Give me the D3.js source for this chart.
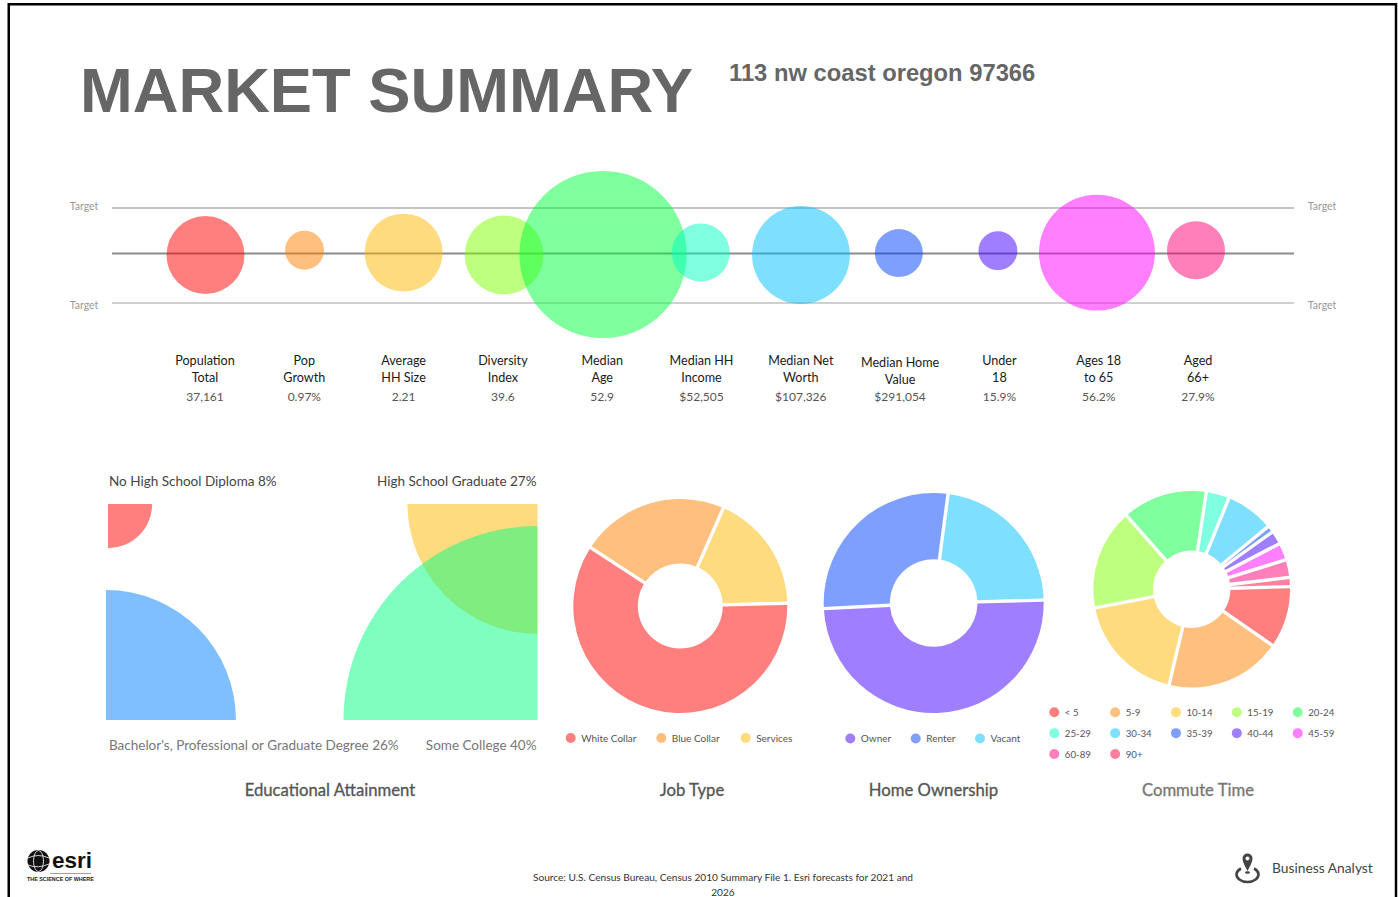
<!DOCTYPE html>
<html>
<head>
<meta charset="utf-8">
<script src="https://d3js.org/d3.v7.min.js"></script>
<title>Market Summary</title>
<style>
    html, body { margin: 0; padding: 0; background: #fff; overflow: hidden; }
    svg { display: block; }
    text { font-family: Lato, "Open Sans", sans-serif; }
    .head { font-family: "Liberation Sans", Arial, sans-serif; font-weight: bold; fill: #666; }
</style>
</head>
<body>
<svg id="chart" width="1398" height="897"></svg>
<script>
// top row
const metricNames = [["Population", "Total"], ["Pop", "Growth"], ["Average", "HH Size"], ["Diversity", "Index"],
    ["Median", "Age"], ["Median HH", "Income"], ["Median Net", "Worth"], ["Median Home", "Value"],
    ["Under", "18"], ["Ages 18", "to 65"], ["Aged", "66+"]];
const metricValues = ["37,161", "0.97%", "2.21", "39.6", "52.9", "$52,505", "$107,326", "$291,054", "15.9%", "56.2%", "27.9%"];
// bubble size against the target band (1 = as tall as the band), and its height inside the band
const bubbleSize = [0.82, 0.41, 0.82, 0.83, 1.76, 0.61, 1.03, 0.505, 0.41, 1.22, 0.61];
const bubbleLevel = [-0.03, 0.07, 0.02, -0.03, -0.02, 0.02, -0.03, 0.01, 0.06, 0.02, 0.07];
const bubbleSlot = [0, 1, 2, 3.014, 4.013, 5, 6.012, 7, 8, 9, 10];
const bubbleColors = ["#ff0000", "#ff7f00", "#ffb700", "#80ff00", "#00ff3c", "#00ffc0", "#00bfff", "#0040ff", "#4000ff", "#ff00ff", "#ff0078"];

// education
const eduLabels = ["No High School Diploma 8%", "High School Graduate 27%", "Bachelor's, Professional or Graduate Degree 26%", "Some College 40%"];
const eduValues = [9.1, 26.8, 26.8, 40];
const eduColors = ["#ff0000", "#ffb700", "#0080ff", "#00ff80"];

// donuts
const jobNames = ["White Collar", "Blue Collar", "Services"];
const jobValues = [59.6, 22.4, 18];
const homeNames = ["Owner", "Renter", "Vacant"];
const homeValues = [49.6, 27.9, 22.5];
const commuteNames = ["< 5", "5-9", "10-14", "15-19", "20-24", "25-29", "30-34", "35-39", "40-44", "45-59", "60-89", "90+"];
const commuteValues = [10.1, 19, 18.25, 16.5, 13.9, 3.8, 7.9, 1.1, 2.2, 2.8, 2.9, 1.5];
const paletteA = ["#ff0000", "#ff7f00", "#ffb700"];
const paletteB = ["#4000ff", "#0040ff", "#00bfff"];
const paletteC = ["#ff0000", "#ff7f00", "#ffb700", "#80ff00", "#00ff3c", "#00ffc0", "#00bfff", "#0040ff", "#4000ff", "#ff00ff", "#ff0078", "#ff0040"];

const svg = d3.select("svg#chart");

// frame
svg.append("rect").attr("x", 8.75).attr("y", 4.25).attr("width", 1387.25).attr("height", 900)
    .attr("fill", "none").attr("stroke", "#000").attr("stroke-width", 2.5);

// header
svg.append("text").attr("class", "head").attr("x", 80).attr("y", 112).attr("font-size", 63.3).text("MARKET SUMMARY");
svg.append("text").attr("class", "head").attr("x", 729).attr("y", 81).attr("font-size", 23.75).text("113 nw coast oregon 97366");

// bubbles
const xBubble = d3.scaleLinear().domain([0, 10]).range([205.5, 1196]);
const xLabel = d3.scalePoint().domain(d3.range(metricNames.length)).range([205, 1198]);
const yBand = d3.scaleLinear().domain([-1, 0, 1]).range([303, 253.5, 208]);
const rBubble = d3.scaleLinear().domain([0, 1]).range([0, 47.5]);

[[1, "#c4c4c4"], [0, "#8c8c8c"], [-1, "#d0d0d0"]].forEach(d => {
    svg.append("line").attr("x1", 112).attr("x2", 1294).attr("y1", yBand(d[0])).attr("y2", yBand(d[0]))
        .attr("stroke", d[1]).attr("stroke-width", 2);
});
[[84, 210], [1322, 210], [84, 309], [1322, 309]].forEach(d => {
    svg.append("text").attr("x", d[0]).attr("y", d[1]).attr("text-anchor", "middle")
        .attr("font-size", 10.5).attr("fill", "#999").text("Target");
});

svg.append("g").selectAll("circle").data(bubbleSize).join("circle")
    .attr("cx", (d, i) => xBubble(bubbleSlot[i]))
    .attr("cy", (d, i) => yBand(bubbleLevel[i]))
    .attr("r", d => rBubble(d))
    .attr("fill", (d, i) => bubbleColors[i])
    .attr("fill-opacity", 0.5);

metricNames.forEach((name, i) => {
    const drop = i === 7 ? 2 : 0;
    const g = svg.append("g").attr("text-anchor", "middle").attr("font-size", 12.6);
    g.append("text").attr("x", xLabel(i)).attr("y", 365 + drop).attr("fill", "#1a1a1a").text(name[0]);
    g.append("text").attr("x", xLabel(i)).attr("y", 382 + drop).attr("fill", "#1a1a1a").text(name[1]);
    g.append("text").attr("x", xLabel(i)).attr("y", 401).attr("fill", "#555").attr("font-size", 12).text(metricValues[i]);
});

// education quarter circles
const rEdu = d3.scaleLinear().domain([0, 40]).range([0, 194]);
const eduPlace = [
    {cx: 108, cy: 504, a0: Math.PI / 2},
    {cx: 537.5, cy: 504, a0: Math.PI},
    {cx: 106, cy: 720, a0: 0},
    {cx: 537.5, cy: 720, a0: Math.PI * 1.5}
];
eduValues.forEach((v, i) => {
    const p = eduPlace[i];
    const arc = d3.arc().innerRadius(0).outerRadius(rEdu(v)).startAngle(p.a0).endAngle(p.a0 + Math.PI / 2);
    svg.append("path").attr("transform", `translate(${p.cx}, ${p.cy})`).attr("d", arc())
        .attr("fill", eduColors[i]).attr("fill-opacity", 0.5);
});
[[109, 486, "start", "#444"], [536.5, 486, "end", "#444"], [109, 750, "start", "#777"], [536.5, 750, "end", "#777"]].forEach((d, i) => {
    svg.append("text").attr("x", d[0]).attr("y", d[1]).attr("text-anchor", d[2])
        .attr("font-size", 13.5).attr("fill", d[3]).text(eduLabels[i]);
});

// donuts
const startDeg = 88.5;
const pie = d3.pie().sort(null)
    .startAngle(startDeg * Math.PI / 180)
    .endAngle((startDeg + 360) * Math.PI / 180);

function donut(values, colors, cx, cy, r0, r1) {
    const arc = d3.arc().innerRadius(r0).outerRadius(r1).padAngle(3.4 / r1).padRadius(r1);
    svg.append("g").attr("transform", `translate(${cx}, ${cy})`)
        .selectAll("path").data(pie(values)).join("path")
        .attr("d", arc)
        .attr("fill", (d, i) => colors[i])
        .attr("fill-opacity", 0.5);
}
donut(jobValues, paletteA, 680.3, 606, 42.5, 107);
donut(homeValues, paletteB, 933.7, 603, 43.8, 110);
donut(commuteValues, paletteC, 1191.7, 589.2, 38.7, 98.3);

// legends
function legendItem(x, y, name, color, size) {
    svg.append("circle").attr("cx", x).attr("cy", y).attr("r", 5)
        .attr("fill", color).attr("fill-opacity", 0.5);
    svg.append("text").attr("x", x + 10.5).attr("y", y + 3.7)
        .attr("font-size", size).attr("fill", "#555").text(name);
}
[570.7, 661.3, 745.7].forEach((x, i) => legendItem(x, 738, jobNames[i], paletteA[i], 10));
[850.3, 915.7, 980].forEach((x, i) => legendItem(x, 738.5, homeNames[i], paletteB[i], 10));
const legendCols = d3.scalePoint().domain(d3.range(5)).range([1054.3, 1297.7]);
const legendRows = d3.scalePoint().domain(d3.range(3)).range([712.3, 754]);
commuteNames.forEach((name, i) => legendItem(legendCols(i % 5), legendRows(Math.floor(i / 5)), name, paletteC[i], 9.7));

// section titles
[["Educational Attainment", 330, "#555"], ["Job Type", 692, "#555"], ["Home Ownership", 933.5, "#555"], ["Commute Time", 1198, "#777"]].forEach(d => {
    svg.append("text").attr("x", d[1]).attr("y", 796).attr("text-anchor", "middle")
        .attr("font-size", 16.7).attr("fill", d[2])
        .attr("stroke", d[2]).attr("stroke-width", 0.3).text(d[0]);
});

// source
[["Source: U.S. Census Bureau, Census 2010 Summary File 1. Esri forecasts for 2021 and", 881], ["2026", 896]].forEach(d => {
    svg.append("text").attr("x", 723).attr("y", d[1]).attr("text-anchor", "middle")
        .attr("font-size", 10.15).attr("fill", "#333").text(d[0]);
});

// esri mark
const esri = svg.append("g");
esri.append("circle").attr("cx", 38.5).attr("cy", 861).attr("r", 11).attr("fill", "#111");
esri.append("ellipse").attr("cx", 38.5).attr("cy", 861).attr("rx", 5).attr("ry", 10.5).attr("fill", "none").attr("stroke", "#fff").attr("stroke-width", 0.8);
esri.append("path").attr("d", "M28,858 Q38,853 49,858 M28,865 Q38,869 49,864").attr("fill", "none").attr("stroke", "#fff").attr("stroke-width", 0.8);
esri.append("text").attr("x", 52).attr("y", 868).attr("font-size", 22.5).attr("font-weight", 700).attr("fill", "#111")
    .style("font-family", "'Liberation Sans', sans-serif").text("esri");
esri.append("line").attr("x1", 50).attr("x2", 91).attr("y1", 873.5).attr("y2", 873.5).attr("stroke", "#777").attr("stroke-width", 0.7);
esri.append("text").attr("x", 27).attr("y", 881).attr("font-size", 5.4).attr("font-weight", 700).attr("fill", "#222")
    .style("font-family", "'Liberation Sans', sans-serif").text("THE SCIENCE OF WHERE");

// business analyst mark
const ba = svg.append("g");
ba.append("path").attr("d", "M1247.5,871 C1245,866 1242.5,862 1242.5,858.5 A5,5 0 0 1 1252.5,858.5 C1252.5,862 1250,866 1247.5,871 Z").attr("fill", "#444");
ba.append("circle").attr("cx", 1247.5).attr("cy", 858.5).attr("r", 2).attr("fill", "#fff");
ba.append("ellipse").attr("cx", 1247.5).attr("cy", 872.5).attr("rx", 2.5).attr("ry", 1.3).attr("fill", "#444");
ba.append("path").attr("d", "M1241,868.5 A11,7.5 0 1 0 1254,868.5").attr("fill", "none").attr("stroke", "#444").attr("stroke-width", 2.6);
svg.append("text").attr("x", 1272).attr("y", 873).attr("font-size", 13.8).attr("fill", "#444").text("Business Analyst");
</script>
</body>
</html>
